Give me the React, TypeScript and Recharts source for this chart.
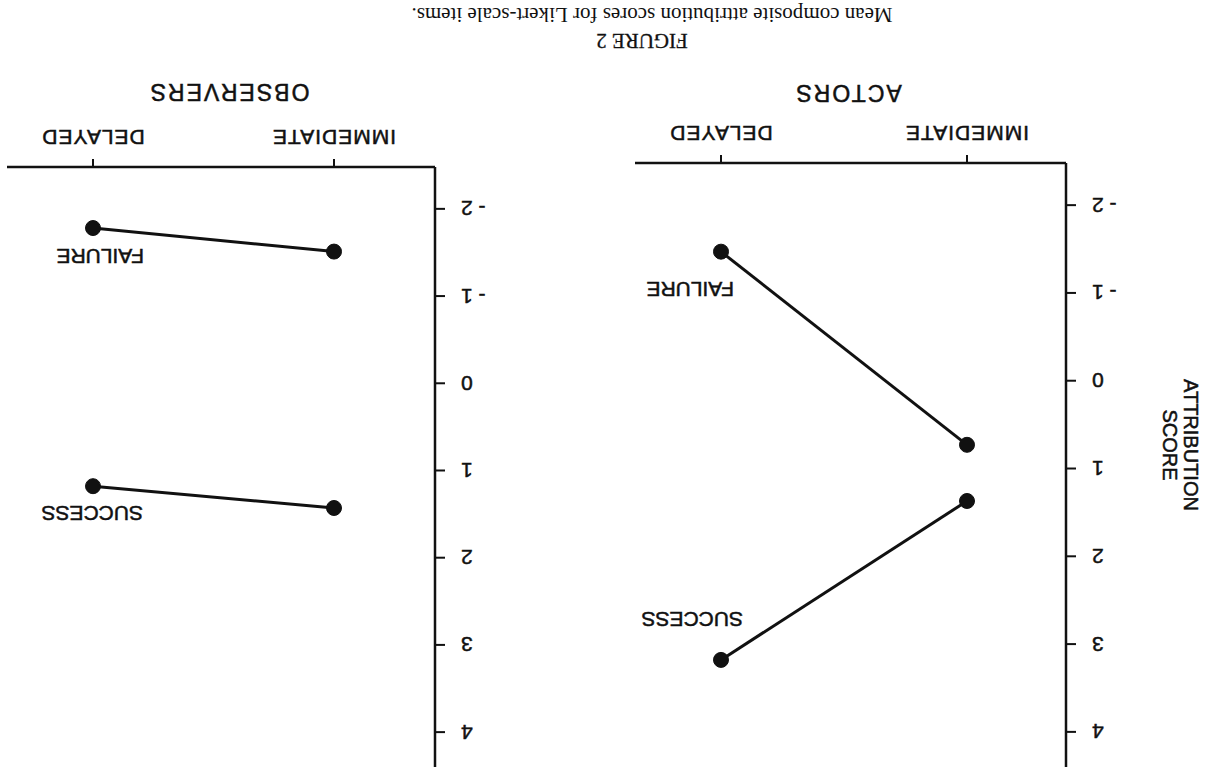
import React from 'react';
import { LineChart, Line, XAxis, YAxis } from 'recharts';

// the scan is upside down, so the figure is drawn upright and the whole page turned 180deg
const conditions = ['IMMEDIATE', 'DELAYED'];
const actorsSuccess = [1.37, 3.18];
const actorsFailure = [0.73, -1.47];
const observersSuccess = [1.43, 1.18];
const observersFailure = [-1.51, -1.78];
const scoreTicks = [-2, -1, 0, 1, 2, 3, 4];

const SANS = '"Liberation Sans", Arial, Helvetica, sans-serif';
const SERIF = '"Liberation Serif", "Times New Roman", serif';
const INK = '#111';
const HEAVY = 0.5; // the printed lettering is a little heavier than the regular face

const buildRows = (success: number[], failure: number[]) =>
  conditions.map((cond, i) => ({ cond, success: success[i], failure: failure[i] }));

const formatScore = (v: number) => (v < 0 ? `- ${Math.abs(v)}` : String(v));

const YTick = ({ x, y, payload }: any) => (
  <text x={x} y={y} textAnchor="end" dominantBaseline="central" fontFamily={SANS} fontSize={21}
    fill={INK} stroke={INK} strokeWidth={HEAVY}>
    {formatScore(payload.value)}
  </text>
);

const XTick = ({ x, y, payload }: any) => (
  <text x={x} y={y + 20} textAnchor="middle" dominantBaseline="central" fontFamily={SANS} fontSize={21}
    letterSpacing={1} fill={INK} stroke={INK} strokeWidth={HEAVY}>
    {payload.value}
  </text>
);

// label drawn next to the DELAYED end of each line
const endLabel = (text: string, dx: number, dy: number) => (props: any) => {
  const { x, y, index } = props;
  if (index !== 1) return null;
  return (
    <text key={text} x={x + dx} y={y + dy} dominantBaseline="central" fontFamily={SANS} fontSize={21}
      fill={INK} stroke={INK} strokeWidth={HEAVY}>
      {text}
    </text>
  );
};

interface PanelProps {
  left: number;
  width: number;
  marginLeft: number;
  marginRight: number;
  marginBottom: number;
  padLeft: number;
  padRight: number;
  success: number[];
  failure: number[];
  successLabel: [number, number];
  failureLabel: [number, number];
}

const Panel: React.FC<PanelProps> = (p) => {
  const rows = buildRows(p.success, p.failure);
  return (
    <div style={{ position: 'absolute', left: p.left, top: 0 }}>
      <LineChart
        width={p.width}
        height={700}
        data={rows}
        margin={{ top: 0, right: p.marginRight, bottom: p.marginBottom, left: p.marginLeft }}
      >
        <XAxis
          dataKey="cond"
          height={60}
          padding={{ left: p.padLeft, right: p.padRight }}
          axisLine={{ stroke: INK, strokeWidth: 2.5 }}
          tickLine={{ stroke: INK, strokeWidth: 2 }}
          tickSize={8}
          tick={<XTick />}
        />
        <YAxis
          type="number"
          width={60}
          domain={[-2.48, 4.4]}
          ticks={scoreTicks}
          axisLine={{ stroke: INK, strokeWidth: 2.5 }}
          tickLine={{ stroke: INK, strokeWidth: 2 }}
          tickSize={10}
          tickMargin={16}
          tick={<YTick />}
        />
        <Line
          dataKey="success"
          stroke={INK}
          strokeWidth={3}
          dot={{ r: 7.5, fill: INK, stroke: INK, strokeWidth: 1 }}
          isAnimationActive={false}
          label={endLabel('SUCCESS', p.successLabel[0], p.successLabel[1])}
        />
        <Line
          dataKey="failure"
          stroke={INK}
          strokeWidth={3}
          dot={{ r: 7.5, fill: INK, stroke: INK, strokeWidth: 1 }}
          isAnimationActive={false}
          label={endLabel('FAILURE', p.failureLabel[0], p.failureLabel[1])}
        />
      </LineChart>
    </div>
  );
};

export default function App() {
  return (
    <div
      style={{
        position: 'absolute',
        left: 0,
        top: 0,
        width: 1208,
        height: 767,
        background: '#fff',
        overflow: 'hidden',
        transform: 'rotate(180deg)',
      }}
    >
      <Panel
        left={0}
        width={600}
        marginLeft={82}
        marginRight={27}
        marginBottom={36}
        padLeft={99}
        padRight={86}
        success={actorsSuccess}
        failure={actorsFailure}
        successLabel={[-22, 40]}
        failureLabel={[-13, -38]}
      />
      <Panel
        left={640}
        width={568}
        marginLeft={73}
        marginRight={7}
        marginBottom={40}
        padLeft={101}
        padRight={86}
        success={observersSuccess}
        failure={observersFailure}
        successLabel={[-50, -27]}
        failureLabel={[-51, -28]}
      />
      <svg width={1208} height={767} style={{ position: 'absolute', left: 0, top: 0, pointerEvents: 'none' }}>
        <g fontFamily={SANS} fill={INK} stroke={INK} strokeWidth={HEAVY}>
          <text x={17} y={322} fontSize={20} textAnchor="middle" dominantBaseline="central" transform="rotate(-90 17 322)">
            ATTRIBUTION
          </text>
          <text x={38} y={322} fontSize={20} textAnchor="middle" dominantBaseline="central" transform="rotate(-90 38 322)">
            SCORE
          </text>
          <text x={360} y={674} fontSize={23} letterSpacing={2} textAnchor="middle" dominantBaseline="central">
            ACTORS
          </text>
          <text x={979} y={675} fontSize={23} letterSpacing={2} textAnchor="middle" dominantBaseline="central">
            OBSERVERS
          </text>
        </g>
        <g fontFamily={SERIF} fill={INK}>
          <text x={566} y={726} fontSize={21} textAnchor="middle" dominantBaseline="central" stroke={INK} strokeWidth={0.3}>
            FIGURE 2
          </text>
          <text x={556} y={752} fontSize={21} textAnchor="middle" dominantBaseline="central">
            Mean composite attribution scores for Likert-scale items.
          </text>
        </g>
      </svg>
    </div>
  );
}
